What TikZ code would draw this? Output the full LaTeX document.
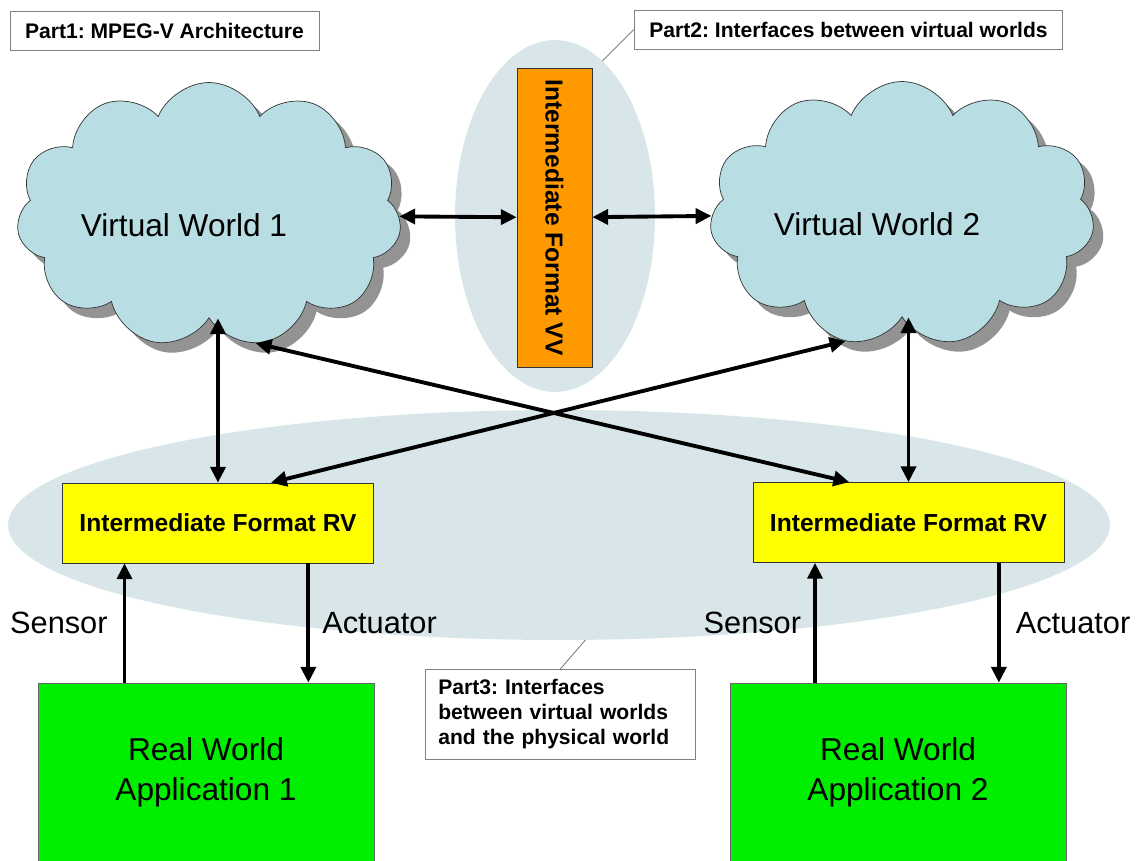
\documentclass[tikz,border=0pt]{standalone}
\usepackage{fontspec}
\setmainfont{Liberation Sans}
\usepackage{graphicx}
\usepackage{tikz}
\usetikzlibrary{shapes.geometric, shapes.symbols, arrows.meta, shadows, calc}
\frenchspacing

\definecolor{cloudblue}{RGB}{184,222,228}
\definecolor{zonegray}{RGB}{216,230,234}
\definecolor{vvorange}{RGB}{255,153,0}
\definecolor{rvyellow}{RGB}{255,255,0}
\definecolor{appgreen}{RGB}{0,238,0}

\begin{document}
\begin{tikzpicture}[x=0.02cm, y=-0.02cm, >={Triangle[length=9pt,width=8.5pt]}]
    \tikzstyle{world} = [cloud, cloud puffs=11, cloud puff arc=135, cloud ignores aspect, draw=black!80, fill=cloudblue, minimum width=7.7cm, minimum height=5.3cm, drop shadow={shadow xshift=0.2cm, shadow yshift=-0.2cm, fill=gray!85, opacity=1}]
    \tikzstyle{worldtext} = [font=\fontsize{18}{21}\selectfont, xshift=-0.5cm, yshift=-0.2cm]
    \tikzstyle{zone} = [ellipse, fill=zonegray, inner sep=0pt, outer sep=0pt]
    \tikzstyle{format} = [rectangle, draw=black!80, fill=rvyellow, minimum width=6.22cm, minimum height=1.6cm, font=\fontsize{14}{16}\selectfont\bfseries]
    \tikzstyle{app} = [rectangle, draw=black!60, fill=appgreen, minimum width=6.72cm, minimum height=3.58cm, align=center, font=\fontsize{18}{22.7}\selectfont]
    \tikzstyle{part} = [rectangle, draw=black!50, fill=white, minimum height=0.78cm, inner xsep=0.3cm, font=\fontsize{12}{14.2}\selectfont\bfseries]
    \tikzstyle{link} = [<->, line width=2.2pt]
    \tikzstyle{flow} = [->, line width=2.2pt]
    \tikzstyle{tag} = [font=\fontsize{17.5}{20}\selectfont, inner sep=0pt]

    \useasboundingbox (0,0) rectangle (1143,860);

    % Background zones
    \node (rvzone) [zone, minimum width=22.04cm, minimum height=4.6cm] at (559,525) {};
    \node (vvzone) [zone, minimum width=4cm, minimum height=7.04cm] at (555,216) {};

    % Worlds and formats
    \node (c1) [world, label={[worldtext]center:Virtual World 1}] at (209,215) {};
    \node (c2) [world, label={[worldtext]center:Virtual World 2}] at (902,214) {};
    \node (vv) [rectangle, draw=black!80, fill=vvorange, minimum width=1.5cm, minimum height=5.98cm, font=\fontsize{14}{16}\selectfont\bfseries] at (554.5,217.5) {\rotatebox{-90}{Intermediate Format VV}};
    \node (rv1) [format] at (218,523) {Intermediate Format RV};
    \node (rv2) [format] at (908.5,522.5) {Intermediate Format RV};
    \node (app1) [app] at (206,772.5) {Real World\\Application 1};
    \node (app2) [app] at (898,772.5) {Real World\\Application 2};

    % Part labels
    \node (p1) [part, minimum width=6.14cm] at (164.5,30.5) {Part1: MPEG-V Architecture};
    \node (p2) [part, minimum width=8.54cm] at (848.5,29.5) {Part2: Interfaces between virtual worlds};
    \node (p3) [part, anchor=north west, align=left, inner xsep=0.26cm, text width=4.88cm, minimum height=1.8cm] at (425,669) {Part3: Interfaces\\between virtual worlds\\and the physical world};
    \draw[black!60, thin] (p2.west) -- (vvzone.73);
    \draw[black!60, thin] (p3.north) -- (rvzone.-77);

    % Arrows between worlds
    \draw[link] (c1) -- (vv);
    \draw[link] (vv) -- (c2);
    \draw[link] (rv1.north |- c1.south) -- (rv1.north);
    \draw[link] (rv2.north |- c2.south) -- (rv2.north);
    \coordinate (x1) at ($(rv2.north west)!0.31!(rv2.north east)$);
    \coordinate (x2) at ($(rv1.north west)!0.67!(rv1.north east)$);
    \draw[link] (c1.-70) -- (x1);
    \draw[link] (c2.-114) -- (x2);

    % Sensor / Actuator
    \coordinate (s1) at ($(rv1.south west)!0.2!(rv1.south east)$);
    \coordinate (a1) at ($(rv1.south west)!0.79!(rv1.south east)$);
    \coordinate (s2) at ($(rv2.south west)!0.2!(rv2.south east)$);
    \coordinate (a2) at ($(rv2.south west)!0.79!(rv2.south east)$);
    \draw[flow] (s1 |- app1.north) -- node[tag, left=0.3cm] {Sensor} (s1);
    \draw[flow] (a1) -- node[tag, right=0.24cm] {Actuator} (a1 |- app1.north);
    \draw[flow] (s2 |- app2.north) -- node[tag, left=0.24cm] {Sensor} (s2);
    \draw[flow] (a2) -- node[tag, right=0.3cm] {Actuator} (a2 |- app2.north);
\end{tikzpicture}
\end{document}
